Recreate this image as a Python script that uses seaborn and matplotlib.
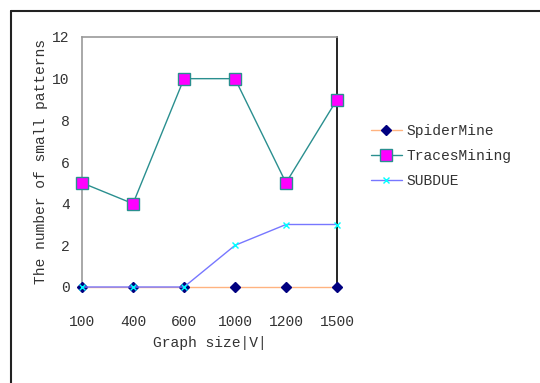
import numpy as np
import pandas as pd
import matplotlib
matplotlib.use("Agg")
import matplotlib.pyplot as plt
import seaborn as sns
from matplotlib.lines import Line2D

sizes = ["100", "400", "600", "1000", "1200", "1500"]
spidermine = [0, 0, 0, 0, 0, 0]
tracesmining = [5, 4, 10, 10, 5, 9]
subdue = [0, 0, 0, 2, 3, 3]
series_names = ["SpiderMine", "TracesMining", "SUBDUE"]
yticks = [0, 2, 4, 6, 8, 10, 12]

sns.set_style("white")
plt.rcParams['font.family'] = ['Liberation Mono', 'DejaVu Sans Mono']

pos = np.arange(len(sizes))
df = pd.DataFrame({
    "pos": np.tile(pos, 3),
    "value": spidermine + tracesmining + subdue,
    "series": np.repeat(series_names, len(sizes)),
})

fig = plt.figure(figsize=(5.4, 3.83), dpi=100)
ax = fig.add_axes([82/540, 1-287/383, (337-82)/540, (287-37)/383])

styles = {
    "SpiderMine": dict(color="#ffb380", marker="D", mfc="#000080", mec="#000080", ms=5),
    "TracesMining": dict(color="#2a8f8f", marker="s", mfc="#ff00ff", mec="#2a8f8f", ms=8),
    "SUBDUE": dict(color="#7777ff", marker="x", mfc="#00ffff", mec="#00ffff", ms=5),
}
handles = []
for name in series_names:
    st = styles[name]
    sub = df[df.series == name]
    sns.lineplot(data=sub, x="pos", y="value", ax=ax, color=st["color"], lw=1.0,
                 marker=st["marker"], markersize=st["ms"], markerfacecolor=st["mfc"],
                 markeredgecolor=st["mec"], markeredgewidth=1.0, clip_on=False,
                 legend=False, zorder=3)
    handles.append(Line2D([0], [0], color=st["color"], lw=1.0, marker=st["marker"],
                          markersize=st["ms"], markerfacecolor=st["mfc"],
                          markeredgecolor=st["mec"], markeredgewidth=1.0))

txtc = "#333333"
ax.set_xlim(0, len(sizes) - 1)
ax.set_ylim(0, 12)
ax.set_xticks(pos)
ax.set_xticklabels(sizes)
ax.set_yticks(yticks)
ax.tick_params(axis='both', length=0, labelsize=10.5, colors=txtc)
ax.tick_params(axis='x', pad=20)
ax.tick_params(axis='y', pad=9)
ax.set_xlabel("Graph size|V|", fontsize=10.5, labelpad=5, color=txtc)
ax.set_ylabel("The number of small patterns", fontsize=10.5, labelpad=3, color=txtc)
for s in ["left", "top"]:
    ax.spines[s].set_color("#999999")
    ax.spines[s].set_linewidth(1.2)
ax.spines["right"].set_color("black")
ax.spines["right"].set_linewidth(1.2)
ax.spines["bottom"].set_visible(False)

fig.legend(handles, series_names, loc="center left",
           bbox_to_anchor=(358/540, 1-156/383), frameon=False,
           fontsize=10.5, handlelength=2.1, labelspacing=0.75, handletextpad=0.3,
           labelcolor=txtc)

fig.add_artist(Line2D([11/540, 11/540], [0, 1-11/383], transform=fig.transFigure,
                      color="#222222", lw=1.5))
fig.add_artist(Line2D([11/540, 1], [1-11/383, 1-11/383], transform=fig.transFigure,
                      color="#222222", lw=1.5))

fig.savefig("out.png", dpi=100)
